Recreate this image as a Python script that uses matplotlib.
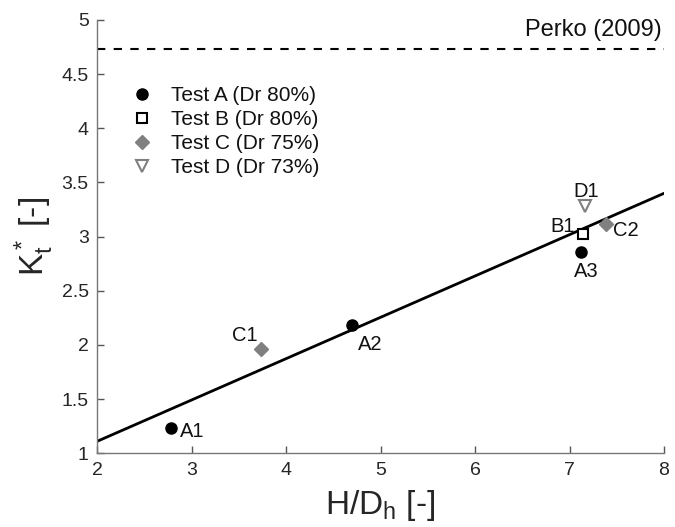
import matplotlib
matplotlib.use("Agg")
import matplotlib.pyplot as plt
import numpy as np
from matplotlib.ticker import FuncFormatter

plt.rcParams['font.family'] = ['Liberation Sans', 'DejaVu Sans']
plt.rcParams['mathtext.fontset'] = 'custom'
plt.rcParams['mathtext.rm'] = 'Liberation Sans'
plt.rcParams['mathtext.it'] = 'Liberation Sans'
plt.rcParams['mathtext.default'] = 'regular'

# Data
a_x = [2.78, 4.70, 7.12]
a_y = [1.23, 2.18, 2.86]
a_lab = ['A1', 'A2', 'A3']
b_x = [7.14]
b_y = [3.02]
b_lab = ['B1']
c_x = [3.74, 7.39]
c_y = [1.96, 3.12]
c_lab = ['C1', 'C2']
d_x = [7.16]
d_y = [3.28]
d_lab = ['D1']
fit_x = [2.0, 8.0]
fit_y = [1.11, 3.40]
perko_y = 4.73
perko_label = 'Perko (2009)'
legend_labels = ['Test A (Dr 80%)', 'Test B (Dr 80%)', 'Test C (Dr 75%)', 'Test D (Dr 73%)']
x_ticks = [2, 3, 4, 5, 6, 7, 8]
y_ticks = [1, 1.5, 2, 2.5, 3, 3.5, 4, 4.5, 5]

fig = plt.figure(figsize=(6.75, 5.27), dpi=100)
ax = fig.add_axes([97/675, 1-453.3/527, (664-97)/675, (453.3-20)/527])

gray = '#808080'
ax.plot(fit_x, fit_y, color='black', lw=2.0, zorder=2)
ax.axhline(perko_y, color='black', lw=1.5, ls=(0, (4, 4)), zorder=2)

ha, = ax.plot(a_x, a_y, 'o', color='black', ms=8, ls='none', zorder=3)
hb, = ax.plot(b_x, b_y, 's', mfc='white', mec='black', mew=1.5, ms=6.5, ls='none', zorder=3)
hc, = ax.plot(c_x, c_y, 'D', color=gray, ms=7, ls='none', zorder=3)
hd, = ax.plot(d_x, d_y, 'v', mfc='white', mec=gray, mew=1.5, ms=8.5, ls='none', zorder=3)

fs_ann = 14.5
offsets = {
    'A1': (7, -2, 'left', 'center'),
    'A2': (4, -7, 'left', 'top'),
    'A3': (-5, -7, 'left', 'top'),
    'B1': (-6, -1, 'right', 'bottom'),
    'C1': (-3, 3, 'right', 'bottom'),
    'C2': (5, -5, 'left', 'center'),
    'D1': (1, 4, 'center', 'bottom'),
}
for xs, ys, labs in [(a_x, a_y, a_lab), (b_x, b_y, b_lab), (c_x, c_y, c_lab), (d_x, d_y, d_lab)]:
    for x, y, l in zip(xs, ys, labs):
        dx, dy, h, v = offsets[l]
        ax.annotate(l, (x, y), xytext=(dx, dy), textcoords='offset points',
                    ha=h, va=v, fontsize=fs_ann, color='#111111')

ax.text(7.98, 4.91, perko_label, ha='right', va='center', fontsize=17, color='#111111')

ax.set_xlim(2, 8)
ax.set_ylim(1, 5)
ax.set_xticks(x_ticks)
ax.set_yticks(y_ticks)
ax.yaxis.set_major_formatter(FuncFormatter(lambda v, p: f'{v:g}'))
ax.tick_params(direction='in', length=5, width=1, color='#555555', labelsize=14,
               labelcolor='#262626', pad=6)
for s in ['top', 'right']:
    ax.spines[s].set_visible(False)
for s in ['left', 'bottom']:
    ax.spines[s].set_color('#777777')
    ax.spines[s].set_linewidth(1.0)

ax.set_xlabel('H/D$_h$ [-]', fontsize=24, color='#262626', labelpad=7)
ax.set_ylabel('K$^*_t$ [-]', fontsize=24, color='#262626', labelpad=4)

leg = ax.legend([ha, hb, hc, hd], legend_labels, loc='upper left',
                bbox_to_anchor=(0.025, 0.89), frameon=False, fontsize=15,
                handletextpad=0.75, labelspacing=0.24, handlelength=1.2,
                labelcolor='#111111')

fig.savefig('out.png', dpi=100)
